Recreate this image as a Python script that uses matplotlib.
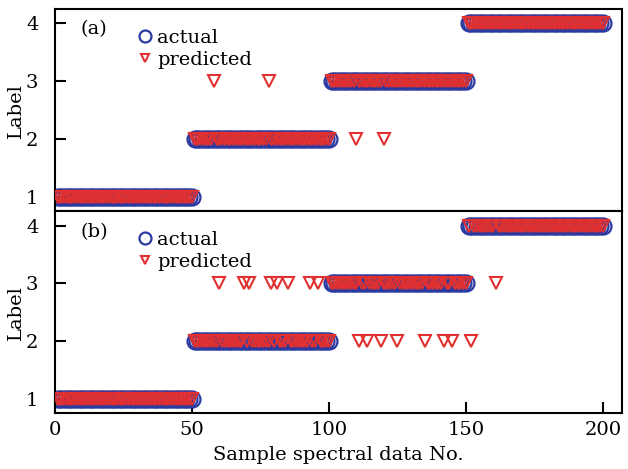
import matplotlib
matplotlib.use("Agg")
import matplotlib.pyplot as plt
import numpy as np

plt.rcParams['font.family'] = ['DejaVu Serif']
plt.rcParams['mathtext.fontset'] = 'dejavuserif'

# ---- data ----
class_labels = [1, 2, 3, 4]
class_sizes = [50, 50, 50, 50]
sample_no = np.arange(1, 201)
actual = np.repeat(class_labels, class_sizes)

# misclassified samples (sample number, predicted label)
miss_a_x = [58, 78, 110, 120]
miss_a_y = [3, 3, 2, 2]
miss_b_x = [60, 69, 71, 79, 81, 85, 93, 96,
            111, 114, 119, 125, 135, 142, 145, 152, 161]
miss_b_y = [3, 3, 3, 3, 3, 3, 3, 3,
            2, 2, 2, 2, 2, 2, 2, 2, 3]

pred_a = actual.copy()
for x, y in zip(miss_a_x, miss_a_y):
    pred_a[x - 1] = y
pred_b = actual.copy()
for x, y in zip(miss_b_x, miss_b_y):
    pred_b[x - 1] = y

x_ticks = [0, 50, 100, 150, 200]
y_ticks = [1, 2, 3, 4]
panel_tags = ["(a)", "(b)"]

blue = "#2B3AA0"
red = "#E03030"
FS = 14

fig = plt.figure(figsize=(6.28, 4.69), dpi=100)
L, R = 55 / 628, 622 / 628
ax_a = fig.add_axes([L, 1 - 211.5 / 469, R - L, (211.5 - 9) / 469])
ax_b = fig.add_axes([L, 1 - 413 / 469, R - L, (413 - 211.5) / 469])

for ax, pred, tag in [(ax_a, pred_a, panel_tags[0]), (ax_b, pred_b, panel_tags[1])]:
    ax.plot(sample_no, actual, 'o', mfc='none', mec=blue, ms=11.5, mew=1.6,
            label='actual', zorder=2)
    ax.plot(sample_no, pred, 'v', mfc='none', mec=red, ms=8, mew=1.5,
            label='predicted', zorder=3)
    ax.set_xlim(0, 207)
    ax.set_ylim(0.75, 4.25)
    ax.set_yticks(y_ticks)
    ax.set_ylabel('Label', fontsize=FS, labelpad=1)
    for s in ax.spines.values():
        s.set_linewidth(1.5)
    ax.tick_params(axis='both', direction='in', length=8, width=1.5,
                   labelsize=FS, top=False, right=False)
    ax.tick_params(axis='y', pad=12)
    ax.tick_params(axis='x', pad=6)
    ax.text(0.045, 0.9, tag, transform=ax.transAxes, fontsize=FS, va='center')
    ax.legend(loc='upper left', bbox_to_anchor=(0.115, 0.97), frameon=False,
              fontsize=FS, handletextpad=0.0, markerscale=0.75,
              labelspacing=0.2, handlelength=1.2, borderaxespad=0.3)

ax_a.set_xticks(x_ticks)
ax_a.tick_params(axis='x', bottom=False, labelbottom=False)
ax_b.set_xticks(x_ticks)
ax_b.set_xlabel('Sample spectral data No.', fontsize=FS, labelpad=5)

fig.savefig('out.png', dpi=100)
